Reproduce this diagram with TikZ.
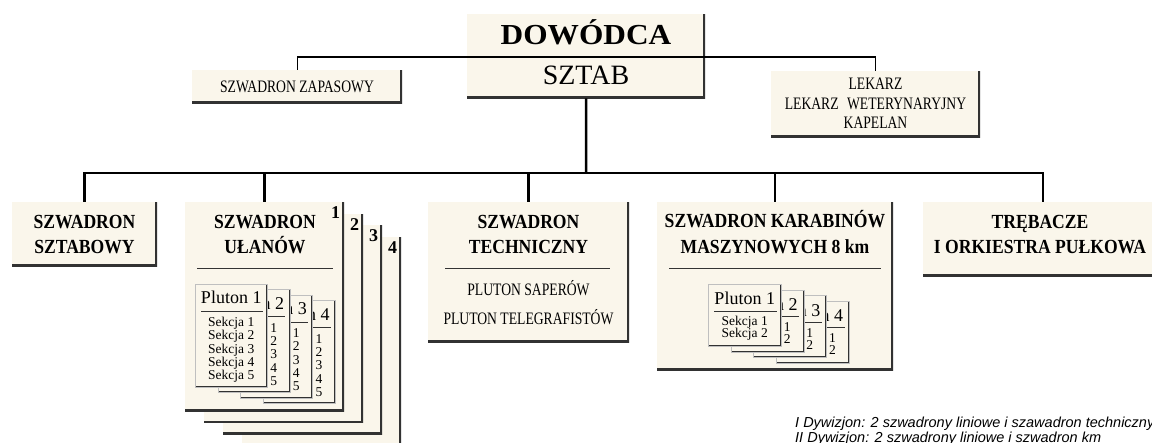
\documentclass[tikz,border=0pt]{standalone}
\usepackage{fontspec}
\setmainfont{Liberation Serif}
\newfontfamily\condfont[FakeStretch=0.78]{Liberation Serif}
\newfontfamily\headfont[FakeStretch=0.88]{Liberation Serif}
\newfontfamily\widefont[FakeStretch=1.08]{Liberation Serif}
\newfontfamily\notefont{Liberation Sans}
\usetikzlibrary{calc}

\definecolor{paper}{RGB}{250,246,235}
\definecolor{edge}{RGB}{50,50,50}

\begin{document}
\begin{tikzpicture}[x=1pt, y=-1pt,
		box/.style={fill=paper, inner sep=0pt, anchor=north west,
			path picture={\draw[edge, line width=#1]
				(path picture bounding box.north east) -- (path picture bounding box.south east)
				-- (path picture bounding box.south west);}},
		box/.default=4pt,
		sheet/.style={box=2.6pt, draw=black!25, line width=0.5pt},
		headline/.style={anchor=base, inner sep=0pt, font=\headfont\bfseries\fontsize{20}{24}\selectfont},
		plainline/.style={anchor=base, inner sep=0pt, font=\condfont\fontsize{17.5}{20}\selectfont},
		plutline/.style={anchor=base, inner sep=0pt, font=\fontsize{18}{20}\selectfont},
		sekline/.style={anchor=base, inner sep=0pt, font=\fontsize{13.5}{15}\selectfont},
		numline/.style={anchor=base east, inner sep=0pt, font=\bfseries\fontsize{18}{20}\selectfont},
		rule/.style={draw=black!80, line width=0.9pt},
		thinlink/.style={line width=1.3pt},
		trunk/.style={line width=2.5pt}]
		
		\useasboundingbox (0,0) rectangle (1152,443);
		\clip (0,0) rectangle (1152,443);
		\fill[white] (0,0) rectangle (1152,443);
		
		% top
		\node[box, minimum width=238pt, minimum height=84pt] (dow) at (467,14) {};
		\node[anchor=base, inner sep=0pt, font=\widefont\bfseries\fontsize{29}{32}\selectfont] (dow-t) at (586,45) {DOWÓDCA};
		\node[anchor=base, inner sep=0pt, font=\fontsize{28}{30}\selectfont] (dow-s) at (586,85) {SZTAB};
		
		\node[box, minimum width=210pt, minimum height=33pt] (zap) at (192,70) {};
		\node[plainline] (zap-t) at (297,93) {SZWADRON ZAPASOWY};
		
		\node[box, minimum width=209pt, minimum height=66pt] (lek) at (771,71) {};
		\node[plainline] (lek-a) at (875.5,90) {LEKARZ};
		\node[plainline] (lek-b) at (875.5,110) {LEKARZ\hspace{5pt} WETERYNARYJNY};
		\node[plainline] (lek-c) at (875.5,129) {KAPELAN};
		
		\coordinate (topline) at (586,57);
		\draw[thinlink] (zap.north) |- (topline) -| (lek.north);
		
		% bottom row
		\node[box, minimum width=145pt, minimum height=64pt] (sztab) at (12,202) {};
		\node[headline] (sztab-a) at (84.5,228.5) {SZWADRON};
		\node[headline] (sztab-b) at (84.5,254) {SZTABOWY};
		
		\foreach \k/\x/\y in {4/242/236.5, 3/223/225, 2/204/213.5, 1/185/202} {
			\node[box, minimum width=159pt, minimum height=209pt] (ulan\k) at (\x,\y) {};
			\node[numline] (ulan\k-n) at ($(ulan\k.north east)+(-4,17)$) {\k};
		}
		\node[headline] (ulan-a) at (265,229) {SZWADRON};
		\node[headline] (ulan-b) at (265,254) {UŁANÓW};
		\draw[rule] (197,268) -- (333,268);
		\foreach \k in {4,3,2,1} {
			\node[sheet, minimum width=72pt, minimum height=103pt] (ulp\k) at ({195+22.7*(\k-1)},{284+5.5*(\k-1)}) {};
			\node[plutline] (ulp\k-t) at ($(ulp\k.north)+(0,20)$) {Pluton \k};
			\draw[rule] ($(ulp\k.north west)+(6,27)$) -- ($(ulp\k.north east)+(-5,27)$);
			\foreach \s in {1,...,5}
				\node[sekline] (ulp\k-s\s) at ($(ulp\k.north)+(0,{29.4+13.3*\s})$) {Sekcja \s};
		}
		
		\node[box, minimum width=201pt, minimum height=140pt] (tech) at (428,202) {};
		\node[headline] (tech-a) at (528.5,229) {SZWADRON};
		\node[headline] (tech-b) at (528.5,254) {TECHNICZNY};
		\draw[rule] (445,268) -- (610,268);
		\node[plainline] (tech-c) at (528.5,296) {PLUTON SAPERÓW};
		\node[plainline] (tech-d) at (528.5,325) {PLUTON TELEGRAFISTÓW};
		
		\node[box, minimum width=236pt, minimum height=168pt] (km) at (657,202) {};
		\node[headline] (km-a) at (775,228) {SZWADRON KARABINÓW};
		\node[headline] (km-b) at (775,254) {MASZYNOWYCH 8 km};
		\draw[rule] (669,268) -- (881,268);
		\foreach \k in {4,3,2,1} {
			\node[sheet, minimum width=73pt, minimum height=62pt] (kmp\k) at ({708+22.7*(\k-1)},{284+5.6*(\k-1)}) {};
			\node[plutline] (kmp\k-t) at ($(kmp\k.north)+(0,21)$) {Pluton \k};
			\draw[rule] ($(kmp\k.north west)+(6,27)$) -- ($(kmp\k.north east)+(-5,27)$);
			\foreach \s in {1,2}
				\node[sekline] (kmp\k-s\s) at ($(kmp\k.north)+(0,{30+12*\s})$) {Sekcja \s};
		}
		
		\node[box, minimum width=240pt, minimum height=74pt] (treb) at (923,202) {};
		\node[headline] (treb-a) at (1040,229) {TRĘBACZE};
		\node[headline] (treb-b) at (1040,254) {I ORKIESTRA PUŁKOWA};
		
		% tree
		\coordinate (bus) at (586,173);
		\draw[trunk] (dow.south) -- (bus);
		\draw[trunk] (sztab.north) |- (bus) -| (treb.north);
		\foreach \n in {ulan1, tech, km}
			\draw[trunk] (\n.north) -- (\n.north |- bus);
		
		% note
		\begin{scope}[font=\notefont\itshape\fontsize{14.5}{16}\selectfont]
			\node[anchor=base west, inner sep=0pt] (note1) at (795,428) {I Dywizjon: 2 szwadrony liniowe i szawadron techniczny};
			\node[anchor=base west, inner sep=0pt] (note2) at (795,442.5) {II Dywizjon: 2 szwadrony liniowe i szwadron km};
		\end{scope}
	\end{tikzpicture}
\end{document}
